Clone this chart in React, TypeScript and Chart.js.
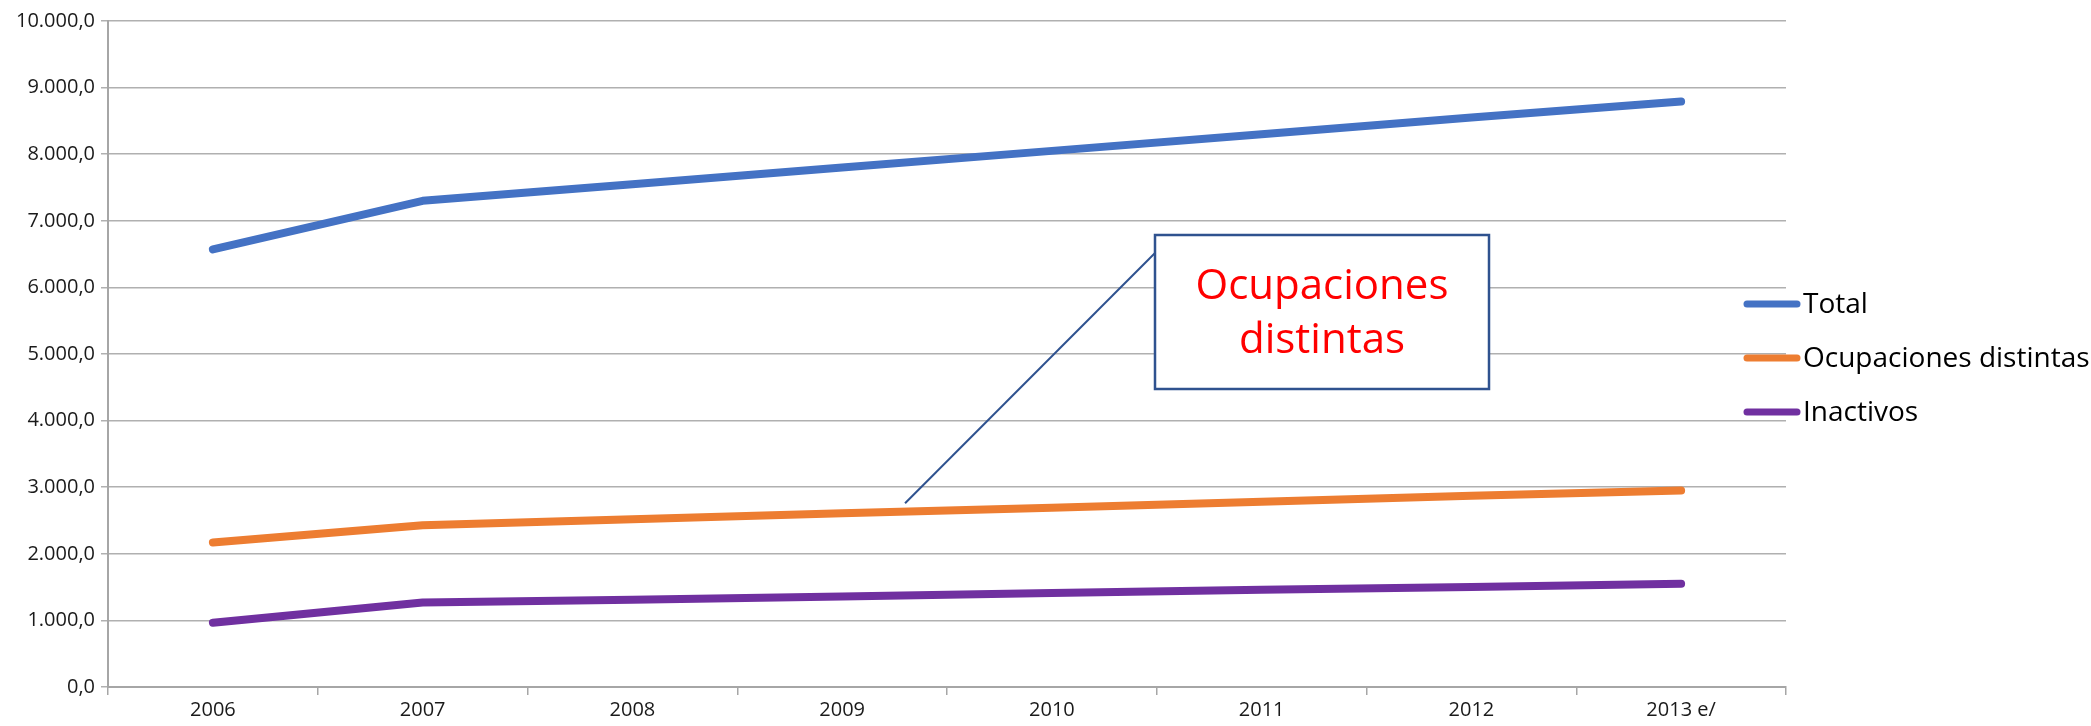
import React, { useEffect, useRef } from "react";
import { Chart, registerables } from "chart.js";

Chart.register(...registerables);

const categories = ["2006", "2007", "2008", "2009", "2010", "2011", "2012", "2013 e/"];
const totalValues = [6570, 7300, 7550, 7800, 8050, 8300, 8550, 8790];
const ocupacionesValues = [2170, 2430, 2520, 2610, 2690, 2780, 2870, 2950];
const inactivosValues = [965, 1270, 1310, 1360, 1410, 1460, 1500, 1550];
const seriesNames = ["Total", "Ocupaciones distintas", "Inactivos"];
const seriesColors = ["#4472c4", "#ed7d31", "#7030a0"];
const annotationLines = ["Ocupaciones", "distintas"];

const W = 2091;
const H = 726;
const FONT = "'Open Sans', 'Noto Sans', sans-serif";

function fmt(v: number) {
  const s = Math.round(v).toString().replace(/\B(?=(\d{3})+(?!\d))/g, ".");
  return s + ",0";
}

const overlayPlugin = {
  id: "overlay",
  afterDraw(chart: any) {
    const ctx = chart.ctx;
    const xs = chart.scales.x;
    const ys = chart.scales.y;
    ctx.save();
    // callout line
    const tipX = xs.getPixelForValue(3.3);
    const tipY = ys.getPixelForValue(2760);
    const bx = 1155, by = 235, bw = 334, bh = 154;
    ctx.strokeStyle = "#2f528f";
    ctx.lineWidth = 2;
    ctx.beginPath();
    ctx.moveTo(tipX, tipY);
    ctx.lineTo(bx + 4, by + 14);
    ctx.stroke();
    // box
    ctx.fillStyle = "#ffffff";
    ctx.fillRect(bx, by, bw, bh);
    ctx.lineWidth = 2.5;
    ctx.strokeRect(bx, by, bw, bh);
    ctx.fillStyle = "#ff0000";
    ctx.font = `42px ${FONT}`;
    ctx.textAlign = "center";
    ctx.textBaseline = "middle";
    ctx.fillText(annotationLines[0], bx + bw / 2, 287);
    ctx.fillText(annotationLines[1], bx + bw / 2, 341);
    // legend
    const rows = [304, 358, 412];
    chart.data.datasets.forEach((ds: any, i: number) => {
      const y = rows[i];
      ctx.strokeStyle = ds.borderColor;
      ctx.lineWidth = 7;
      ctx.lineCap = "round";
      ctx.beginPath();
      ctx.moveTo(1747, y);
      ctx.lineTo(1797, y);
      ctx.stroke();
      ctx.fillStyle = "#000000";
      ctx.font = `28px ${FONT}`;
      ctx.textAlign = "left";
      ctx.textBaseline = "middle";
      ctx.fillText(ds.label, 1803, y + 1);
    });
    ctx.restore();
  },
};

export default function App() {
  const ref = useRef<HTMLCanvasElement>(null);
  useEffect(() => {
    if (!ref.current) return;
    const chart = new Chart(ref.current, {
      type: "line",
      data: {
        labels: categories,
        datasets: [totalValues, ocupacionesValues, inactivosValues].map((d, i) => ({
          label: seriesNames[i],
          data: d,
          borderColor: seriesColors[i],
          backgroundColor: seriesColors[i],
          borderWidth: 8,
          borderCapStyle: "round" as const,
          borderJoinStyle: "round" as const,
          pointRadius: 0,
          tension: 0,
        })),
      },
      options: {
        responsive: false,
        animation: false,
        layout: { padding: { top: 21, right: 305, left: 0, bottom: 0 } },
        plugins: { legend: { display: false }, tooltip: { enabled: false } },
        scales: {
          x: {
            offset: true,
            grid: {
              offset: true,
              drawOnChartArea: false,
              drawTicks: true,
              tickLength: 8,
              color: "#a6a6a6",
              lineWidth: 1.5,
            },
            border: { color: "#a6a6a6", width: 2 },
            ticks: { color: "#1a1a1a", font: { family: FONT, size: 20 }, padding: 3 },
            afterFit: (s: any) => {
              s.height = 39;
            },
          },
          y: {
            min: 0,
            max: 10000,
            ticks: {
              stepSize: 1000,
              color: "#1a1a1a",
              font: { family: FONT, size: 20 },
              padding: 6,
              callback: (v: any) => fmt(Number(v)),
            },
            grid: { color: "#b0b0b0", lineWidth: 1.5, tickLength: 7 },
            border: { color: "#a6a6a6", width: 2 },
            afterFit: (s: any) => {
              s.width = 108;
            },
          },
        },
      },
      plugins: [overlayPlugin],
    });
    return () => chart.destroy();
  }, []);
  return (
    <div style={{ position: "fixed", left: 0, top: 0, width: W, height: H, background: "#fff" }}>
      <canvas ref={ref} width={W} height={H} style={{ display: "block" }} />
    </div>
  );
}
